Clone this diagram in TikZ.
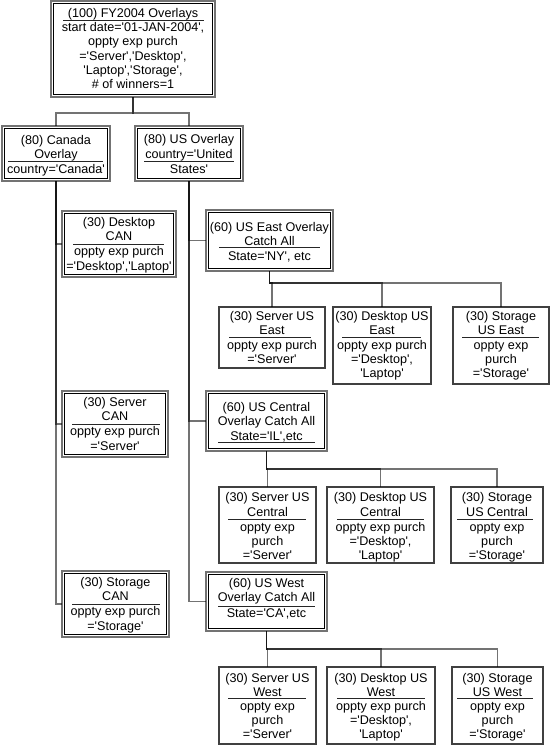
\documentclass[tikz,border=0pt]{standalone}
\usepackage{fontspec}
\newfontfamily\diagfont{Liberation Sans}
\tikzset{
  conn/.style={draw=black, line width=1.3pt, draw opacity=0.55},
  outerbox/.style={draw=black!55, line width=1.5pt, fill=white, inner sep=0pt, outer sep=0pt},
  innerbox/.style={draw=black, line width=0.9pt},
  plainbox/.style={draw=black!75, line width=1.1pt, fill=white, inner sep=0pt, outer sep=0pt},
  txt/.style={font=\diagfont\fontsize{12.6}{14.3}\selectfont, align=center, inner sep=0pt, anchor=north, text=black},
  sepline/.style={draw=black!85, line width=0.8pt}
}
\newcommand\mydbox[5]{%
  \node[outerbox, anchor=north west, minimum width={#4pt-#2pt}, minimum height={#5pt-#3pt}] (#1) at (#2,#3) {};
  \draw[innerbox] ([shift={(2.8pt,-2.8pt)}]#1.north west) rectangle ([shift={(-2.8pt,2.8pt)}]#1.south east);}
\newcommand\mypbox[5]{%
  \node[plainbox, anchor=north west, minimum width={#4pt-#2pt}, minimum height={#5pt-#3pt}] (#1) at (#2,#3) {};}
\newcommand\mytx[4]{\node[txt] (#1) at ({#2},{#3-5.9}) {\strut #4};}
\newcommand\mysep[3]{\draw[sepline] (#1,#3) -- (#2,#3);}
\begin{document}
\begin{tikzpicture}[x=1pt,y=-1pt]
\fill[white] (0,0) rectangle (550,746);
\useasboundingbox (0,0) rectangle (550,746);

% Boxes
\mydbox{top}{51}{1}{215}{97}
\mydbox{can}{2}{126}{110}{181}
\mydbox{us}{135}{126}{243}{181}
\mydbox{dcan}{62}{211}{176}{277}
\mydbox{scan}{62}{391}{168}{457}
\mydbox{stcan}{62}{571}{169}{637}
\mydbox{use}{206}{210}{333}{271}
\mydbox{usc}{206}{391}{327}{451}
\mydbox{usw}{206}{572}{327}{631}
\mypbox{se}{219}{307}{325}{368}
\mypbox{de}{333}{307}{431}{384}
\mypbox{ste}{453}{307}{549}{384}
\mypbox{sc}{219}{487}{316}{563}
\mypbox{dc}{327}{487}{434}{563}
\mypbox{stc}{451}{487}{543}{563}
\mypbox{sw}{219}{667}{316}{744}
\mypbox{dw}{327}{667}{435}{744}
\mypbox{stw}{452}{667}{543}{744}

% Connectors
\draw[conn] (top.south) -- ++(0,16) -| (can.north);
\draw[conn] (top.south) -- ++(0,16) -| (us.north);
\draw[conn] (can.south) |- (dcan.west);
\draw[conn] (can.south) |- (scan.west);
\draw[conn] (can.south) |- (stcan.west);
\draw[conn] (us.south) |- (use.west);
\draw[conn] (us.south) |- (usc.west);
\draw[conn] (us.south) |- (usw.west);
\draw[conn] (use.south) -- ++(0,12) -| (se.north);
\draw[conn] (use.south) -- ++(0,12) -| (de.north);
\draw[conn] (use.south) -- ++(0,12) -| (ste.north);
\draw[conn] (usc.south) -- ++(0,18) -| (sc.north);
\draw[conn] (usc.south) -- ++(0,18) -| (dc.north);
\draw[conn] (usc.south) -- ++(0,18) -| (stc.north);
\draw[conn] (usw.south) -- ++(0,18) -| (sw.north);
\draw[conn] (usw.south) -- ++(0,18) -| (dw.north);
\draw[conn] (usw.south) -- ++(0,18) -| (stw.north);

% Texts and separators
\mytx{topa}{133}{12.7}{(100) FY2004 Overlays}
\mysep{63}{204}{20.7}
\mytx{topb}{133}{27.3}{start date='01-JAN-2004',\\oppty exp purch\\='Server','Desktop',\\'Laptop','Storage',\\\# of winners=1}

\mytx{cana}{56}{140}{(80) Canada\\Overlay}
\mysep{8}{103}{161.5}
\mytx{canb}{56}{169}{country='Canada'}

\mytx{usa}{189}{139.5}{(80) US Overlay\\country='United}
\mysep{144}{234}{161.5}
\mytx{usb}{189}{169}{States'}

\mytx{dcana}{119}{222}{(30) Desktop\\CAN}
\mysep{73}{164}{244}
\mytx{dcanb}{119}{251.5}{oppty exp purch\\='Desktop','Laptop'}

\mytx{scana}{115}{402}{(30) Server\\CAN}
\mysep{72}{160}{424}
\mytx{scanb}{115}{431.5}{oppty exp purch\\='Server'}

\mytx{stcana}{115.5}{582}{(30) Storage\\CAN}
\mysep{72}{160}{604}
\mytx{stcanb}{115.5}{611.5}{oppty exp purch\\='Storage'}

\mytx{usea}{269.5}{227}{(60) US East Overlay\\Catch All}
\mysep{219}{320}{247.5}
\mytx{useb}{269.5}{256}{State='NY', etc}

\mytx{usca}{266.5}{407.2}{(60) US Central\\Overlay Catch All\\State='IL',etc}
\mysep{218}{315}{442.3}

\mytx{uswa}{266.5}{583}{(60) US West\\Overlay Catch All}
\mysep{218}{315}{606}
\mytx{uswb}{266.5}{613.5}{State='CA',etc}

\mytx{sea}{272}{316}{(30) Server US\\East}
\mysep{229}{311}{337.5}
\mytx{seb}{272}{345}{oppty exp purch\\='Server'}

\mytx{dea}{382}{316}{(30) Desktop US\\East}
\mysep{342}{421}{337.5}
\mytx{deb}{382}{345}{oppty exp purch\\='Desktop',\\'Laptop'}

\mytx{stea}{501}{316}{(30) Storage\\US East}
\mysep{462}{539}{337.5}
\mytx{steb}{501}{345}{oppty exp\\purch\\='Storage'}

\mytx{sca}{267.5}{497.5}{(30) Server US\\Central}
\mysep{228}{306}{519}
\mytx{scb}{267.5}{527}{oppty exp\\purch\\='Server'}

\mytx{dca}{380.5}{497.5}{(30) Desktop US\\Central}
\mysep{337}{424}{519}
\mytx{dcb}{380.5}{527}{oppty exp purch\\='Desktop',\\'Laptop'}

\mytx{stca}{497}{497.5}{(30) Storage\\US Central}
\mysep{457}{533}{519}
\mytx{stcb}{497}{527}{oppty exp\\purch\\='Storage'}

\mytx{swa}{267.5}{678}{(30) Server US\\West}
\mysep{228}{306}{698.5}
\mytx{swb}{267.5}{706}{oppty exp\\purch\\='Server'}

\mytx{dwa}{381}{678}{(30) Desktop US\\West}
\mysep{337}{425}{698.5}
\mytx{dwb}{381}{706}{oppty exp purch\\='Desktop',\\'Laptop'}

\mytx{stwa}{497.5}{678}{(30) Storage\\US West}
\mysep{457}{533}{698.5}
\mytx{stwb}{497.5}{706}{oppty exp\\purch\\='Storage'}
\end{tikzpicture}
\end{document}
